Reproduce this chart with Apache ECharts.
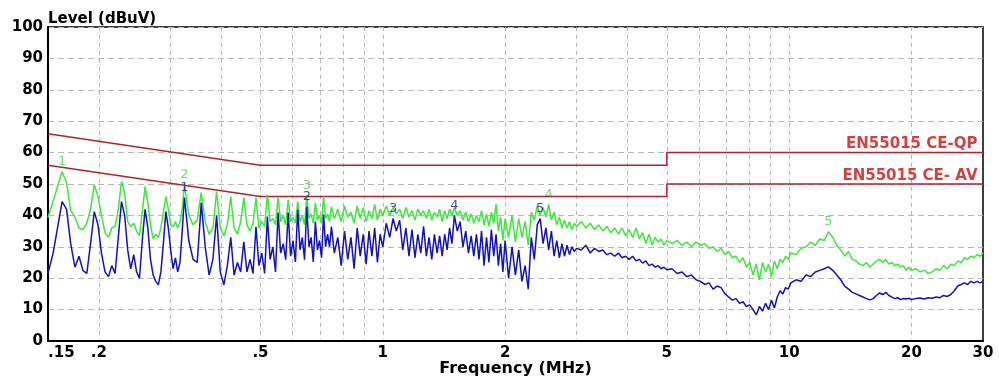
<!DOCTYPE html>
<html>
<head>
<meta charset="utf-8">
<script src="https://cdn.jsdelivr.net/npm/echarts@6/dist/echarts.min.js"></script>
<style>
  html, body { margin: 0; padding: 0; background: #fff; }
  #chart { width: 999px; height: 377px; }
</style>
</head>
<body>
<div id="chart"></div>
<script>
// sweep below 0.75 MHz follows the 32.5 kHz harmonics (peak / trough pattern)
const lowFreq = [0.1500, 0.1544, 0.1625, 0.1666, 0.1706, 0.1747, 0.1788, 0.1828, 0.1869, 0.1909,
  0.1950, 0.1991, 0.2031, 0.2072, 0.2113, 0.2153, 0.2194, 0.2234,
  0.2275, 0.2316, 0.2356, 0.2397, 0.2438, 0.2478, 0.2519, 0.2559,
  0.2600, 0.2641, 0.2681, 0.2722, 0.2763, 0.2803, 0.2844, 0.2884,
  0.2925, 0.2966, 0.3006, 0.3047, 0.3088, 0.3128, 0.3169, 0.3209,
  0.3250,
  0.3331, 0.3413, 0.3494, 0.3575, 0.3656, 0.3738, 0.3819, 0.3900, 0.3981, 0.4063, 0.4144, 0.4225,
  0.4306, 0.4388, 0.4469, 0.4550, 0.4631, 0.4713, 0.4794, 0.4875, 0.4956, 0.5038, 0.5119, 0.5200,
  0.5281, 0.5363, 0.5444, 0.5525, 0.5606, 0.5688, 0.5769, 0.5850, 0.5931, 0.6013, 0.6094, 0.6175,
  0.6256, 0.6338, 0.6419, 0.6500, 0.6581, 0.6663, 0.6744, 0.6825, 0.6906, 0.6988, 0.7069, 0.7150,
  0.7231, 0.7313, 0.7394, 0.7475];
const lowQp = [39.3, 44.5, 54.0, 50.5, 41.5, 39.5, 36, 35.5, 37.5, 42,
  49.8, 46, 40, 34.5, 33, 36, 36.5, 42,
  50.8, 47, 38, 36.5, 37.5, 35, 33.5, 41,
  49.2, 44, 37, 32.5, 34, 33, 36, 41,
  46, 42, 37, 36.4, 38, 36, 38, 42,
  49.8,
  40, 37, 38.5, 47.3, 38, 34, 36, 47.6, 36, 33.5, 37, 46,
  36, 34, 38, 45.7, 37, 35, 37.5, 45.7, 36, 38, 36.5, 46.6,
  38, 39, 37, 45.7, 38, 40, 37, 45, 38, 39.5, 37.5, 44.4,
  38, 40, 37, 46.3, 39, 40.5, 37.5, 44, 38.5, 40, 37.5, 46,
  39, 40.5, 38, 42.8];
const lowAv = [21.5, 28, 44.4, 42, 31, 23.5, 27, 22.5, 21.5, 31,
  41.2, 37, 28, 22, 20.5, 24, 21.5, 33,
  44.4, 40, 29, 23, 27.5, 22, 20, 32,
  41.9, 36, 26, 21, 19, 17.9, 22, 31,
  41.2, 36, 29, 23, 26.5, 22, 25, 35,
  45.7,
  32, 26, 25, 44, 30, 21, 26, 40, 22, 17.9, 24, 33,
  21, 25, 22, 31.6, 22, 26, 21.5, 36.4, 24, 28, 21.5, 39.6,
  26, 30, 22, 40.9, 28, 31, 25.9, 40.9, 27, 32, 25.2, 41.9,
  29, 33, 25.9, 42.8, 30, 33, 25.2, 38, 29, 32, 26.5, 40.3,
  30, 34, 30, 36.4];

const midFreq = [0.760, 0.775, 0.790, 0.805, 0.820, 0.835, 0.850, 0.865, 0.880, 0.895, 0.910, 0.925, 0.940, 0.955, 0.970, 0.985, 1.000,
  1.02, 1.04, 1.06, 1.08, 1.10, 1.12, 1.14, 1.16, 1.18, 1.20, 1.22, 1.24, 1.26, 1.28, 1.30, 1.32, 1.34, 1.36, 1.38, 1.40, 1.42, 1.44, 1.46, 1.48, 1.50,
  1.525, 1.55, 1.575, 1.60, 1.625, 1.65, 1.675, 1.70, 1.725, 1.75, 1.775, 1.80, 1.825, 1.85, 1.875, 1.90, 1.925, 1.95, 1.975, 2.00,
  2.04, 2.08, 2.12, 2.16, 2.20, 2.24, 2.28, 2.32, 2.36, 2.40, 2.44, 2.48, 2.52, 2.56, 2.60, 2.64, 2.68, 2.72, 2.76, 2.80, 2.84, 2.88, 2.92, 2.96, 3.00];
const midQp = [39, 42, 38, 43, 39.5, 41, 37.5, 43, 39, 42.5, 38, 41.5, 39, 43.5, 38.5, 42, 40,
  43, 40, 42.5, 40.5, 42, 39, 42.5, 39.5, 41.5, 38.5, 42, 40, 41.5, 39, 42, 38.5, 41, 39.5, 42, 38, 41.5, 39, 42, 40, 42.5,
  40, 41.5, 38.5, 41, 38, 40.5, 37.5, 40, 38, 41.5, 37, 40.5, 36.5, 41, 37.5, 43.5, 35, 39.5, 32, 39,
  33, 40, 31.5, 39, 33, 38, 30.5, 41, 38.5, 43, 40, 42.5, 39.5, 43.5, 38.5, 41, 37, 39.5, 36, 38.5, 36, 38, 35.5, 37.5, 36.5];
const midAv = [28, 33, 24, 35, 26, 33, 23, 36, 27, 34, 24.5, 35, 27, 36, 25, 34, 30,
  37.5, 33, 39, 35, 38.5, 29, 36, 27, 35.5, 26.5, 34, 28, 36.5, 27, 33, 26, 34, 28, 33.5, 27, 34, 29, 36, 31, 40,
  35, 38, 30, 35, 28, 33.5, 27, 34, 26, 35, 24, 33, 25, 35.5, 27, 34, 24, 31, 22, 32,
  20, 30, 21, 29, 19, 24, 16.5, 33, 26, 37, 39, 31, 36, 29, 35, 27, 32, 26.5, 31, 27, 30.5, 27.5, 30, 28.5, 29.5];

const highFreq = [3.08, 3.16, 3.24, 3.32, 3.40, 3.48, 3.56, 3.64, 3.72, 3.80, 3.88, 3.96, 4.04, 4.12, 4.20, 4.28, 4.36, 4.44, 4.52, 4.60, 4.68, 4.76, 4.84, 4.92, 5.00,
  5.15, 5.30, 5.45, 5.60, 5.75, 5.90, 6.05, 6.20, 6.35, 6.50, 6.65, 6.80, 6.95, 7.10, 7.25, 7.40, 7.55, 7.70, 7.85, 8.00, 8.15, 8.30, 8.45, 8.60, 8.75, 8.90, 9.05, 9.20, 9.35, 9.50, 9.65, 9.80, 9.95, 10.1,
  10.4, 10.7, 11.0, 11.3, 11.6, 11.9, 12.2, 12.5, 12.8, 13.1, 13.4, 13.7, 14.0, 14.3, 14.6, 14.9, 15.2, 15.5, 15.8, 16.1, 16.4, 16.7, 17.0, 17.3, 17.6, 17.9, 18.2, 18.5, 18.8, 19.1, 19.4, 19.7, 20.0,
  20.5, 21.0, 21.5, 22.0, 22.5, 23.0, 23.5, 24.0, 24.5, 25.0, 25.5, 26.0, 26.5, 27.0, 27.5, 28.0, 28.5, 29.0, 29.5, 30.0];
const highQp = [38, 36, 37.5, 35.5, 37, 35, 36.5, 34.5, 36, 34, 36, 33.5, 35.5, 33, 36, 32.5, 34.5, 31, 34, 30.5, 33, 31.5, 32.5, 30.5, 32,
  31, 32, 30.5, 31.5, 30, 31.5, 30.5, 31, 29.5, 30, 28.5, 29.5, 27.5, 28.5, 26.5, 27, 25, 26.5, 23.5, 25, 21, 24.5, 19.5, 25, 22, 24.5, 20.5, 25.5, 23, 26, 25, 27, 26, 28,
  27.5, 29.5, 30, 31.5, 30.5, 32.5, 32, 34.8, 33, 30.5, 29, 27, 28.5, 26, 25.5, 24.5, 24, 25, 23.5, 24.5, 25.5, 26, 25, 26, 24.5, 25, 24, 24.5, 23.5, 24, 22.5, 23.5, 22.5,
  23, 22, 22.5, 21.5, 22, 23, 22.5, 24, 23, 24.5, 24, 25.5, 25, 26.5, 26, 27, 26.5, 27.5, 27, 28];
const highAv = [29, 30.5, 28, 29.5, 28.5, 29, 27.5, 28, 27, 28, 26.5, 27, 26, 27, 25.5, 26, 24.8, 25.5, 24, 24.5, 23.5, 24, 23, 23.5, 22.7,
  23, 21.5, 22, 20.5, 21, 19.5, 19, 18, 18.5, 16.5, 17.5, 17, 15, 14, 13, 13.5, 12, 12.5, 11, 11.5, 10, 8.3, 11, 9.5, 12, 10, 13, 10.5, 14, 16, 15, 17, 16.5, 18.5,
  19.5, 19, 21, 20.5, 22, 22.5, 23, 23.6, 22.5, 21, 19.5, 17.5, 16.5, 15.5, 15, 14.5, 14, 13.5, 13.1, 13.5, 14.5, 15.3, 14.8, 15.5, 14.5, 14, 13.5, 13.8, 13.2, 13.5, 13.4, 13.6, 13.2,
  13.5, 13.7, 13.4, 13.8, 13.6, 14, 13.8, 14.5, 14.2, 14.8, 16, 17.5, 18, 18.5, 18, 19, 18.5, 19, 18.5, 19];

// EN55015 limits
const limitFreq = [0.15, 0.5, 5, 5, 30];
const qpLimit = [66, 56, 56, 60, 60];
const avLimit = [56, 46, 46, 50, 50];

// marked peaks
const qpPeakFreq = [0.1625, 0.325, 0.65, 2.56, 12.5];
const qpPeakLevel = [54.0, 49.8, 46.3, 43.5, 34.8];
const avPeakFreq = [0.325, 0.65, 1.06, 1.50, 2.44];
const avPeakLevel = [45.7, 42.8, 39, 40, 39];
const peakNames = ['1', '2', '3', '4', '5'];

const tickFreqs = [0.15, 0.2, 0.5, 1, 2, 5, 10, 20, 30];
const tickText = ['.15', '.2', '.5', '1', '2', '5', '10', '20', '30'];
const gridFreqs = [0.2, 0.3, 0.4, 0.5, 0.6, 0.7, 0.8, 0.9, 1, 2, 3, 4, 5, 6, 7, 8, 9, 10, 20];

const freqMHz = lowFreq.concat(midFreq, highFreq);
const qpLevel = lowQp.concat(midQp, highQp);
const avLevel = lowAv.concat(midAv, highAv);

const lg = Math.log10;
const pts = (fs, vs) => fs.map((f, i) => [lg(f), vs[i]]);

const FONT = 'DejaVu Sans';
const GREEN = '#3be83b';
const BLUE = '#1212c0';
const RED = '#b3222a';

function peakSeries(fs, vs, color) {
  return {
    type: 'scatter',
    silent: true,
    symbol: 'circle',
    symbolSize: 1,
    itemStyle: { color: 'transparent' },
    z: 5,
    label: {
      show: true,
      position: 'top',
      distance: 3,
      color,
      fontFamily: FONT,
      fontSize: 13,
      formatter: (p) => peakNames[p.dataIndex],
    },
    data: pts(fs, vs),
  };
}

function limitName(level, text) {
  return {
    type: 'scatter',
    silent: true,
    symbolSize: 1,
    itemStyle: { color: 'transparent' },
    label: {
      show: true,
      position: 'left',
      distance: 5,
      offset: [0, -8],
      color: '#c81010',
      fontFamily: FONT,
      fontWeight: 'bold',
      fontSize: 15,
      formatter: text,
    },
    data: [[lg(30), level]],
  };
}

const chart = echarts.init(document.getElementById('chart'), null, { renderer: 'canvas' });
chart.setOption({
  animation: false,
  grid: {
    left: 48, right: 16, top: 27, bottom: 36,
    outerBoundsMode: 'none',
    show: true, borderColor: '#000', borderWidth: 1.5,
  },
  xAxis: {
    type: 'value',
    min: lg(0.15),
    max: lg(30),
    name: 'Frequency (MHz)',
    nameLocation: 'middle',
    nameGap: 20,
    nameMoveOverlap: false,
    nameTextStyle: { color: '#000', fontFamily: FONT, fontWeight: 'bold', fontSize: 16 },
    axisLine: { show: true, onZero: false, lineStyle: { color: '#000', width: 2 } },
    axisTick: { show: false, customValues: gridFreqs.map(lg) },
    splitLine: { show: true, lineStyle: { color: '#b8b8b8', width: 1, type: [4, 4] } },
    axisLabel: {
      customValues: tickFreqs.map(lg),
      formatter: (v) => {
        const i = tickFreqs.findIndex((f) => Math.abs(lg(f) - v) < 1e-6);
        return i >= 0 ? tickText[i] : '';
      },
      color: '#000',
      fontFamily: FONT,
      fontWeight: 'bold',
      fontSize: 15,
      margin: 5,
      alignMinLabel: 'left',
    },
  },
  yAxis: {
    type: 'value',
    min: 0,
    max: 100,
    interval: 10,
    name: 'Level (dBuV)',
    nameLocation: 'end',
    nameGap: 0,
    nameMoveOverlap: false,
    nameTextStyle: { color: '#000', fontFamily: FONT, fontWeight: 'bold', fontSize: 15, align: 'left', verticalAlign: 'bottom' },
    axisLine: { show: true, onZero: false, lineStyle: { color: '#000', width: 2 } },
    axisTick: { show: false },
    splitLine: { show: true, lineStyle: { color: '#b8b8b8', width: 1, type: [6, 4] } },
    axisLabel: { color: '#000', fontFamily: FONT, fontWeight: 'bold', fontSize: 15, margin: 5 },
  },
  series: [
    {
      name: 'QP limit', type: 'line', symbol: 'none', silent: true,
      lineStyle: { color: RED, width: 1.5 }, data: pts(limitFreq, qpLimit),
    },
    {
      name: 'AV limit', type: 'line', symbol: 'none', silent: true,
      lineStyle: { color: RED, width: 1.5 }, data: pts(limitFreq, avLimit),
    },
    {
      name: 'QP', type: 'line', symbol: 'none', silent: true,
      lineStyle: { color: GREEN, width: 1.5 }, data: pts(freqMHz, qpLevel),
    },
    {
      name: 'AV', type: 'line', symbol: 'none', silent: true,
      lineStyle: { color: BLUE, width: 1.5 }, data: pts(freqMHz, avLevel),
    },
    peakSeries(qpPeakFreq, qpPeakLevel, '#45d445'),
    peakSeries(avPeakFreq, avPeakLevel, '#1c1c80'),
    limitName(60, 'EN55015 CE-QP'),
    limitName(50, 'EN55015 CE- AV'),
  ],
});
</script>
</body>
</html>
